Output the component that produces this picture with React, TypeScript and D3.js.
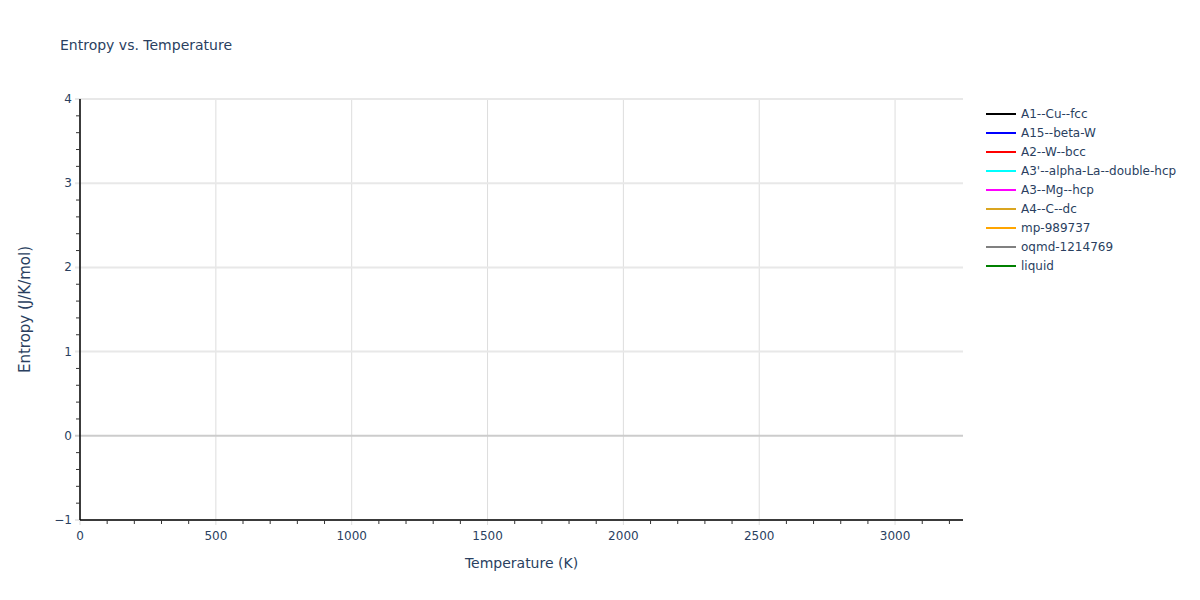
import React from "react";
import * as d3 from "d3";

const seriesNames = [
  "A1--Cu--fcc",
  "A15--beta-W",
  "A2--W--bcc",
  "A3'--alpha-La--double-hcp",
  "A3--Mg--hcp",
  "A4--C--dc",
  "mp-989737",
  "oqmd-1214769",
  "liquid",
];
const seriesColors = ["black", "blue", "red", "cyan", "magenta", "goldenrod", "orange", "grey", "green"];
// No visible data in the reference: each series is empty
const seriesTemps: number[][] = [[], [], [], [], [], [], [], [], []];
const seriesEntropy: number[][] = [[], [], [], [], [], [], [], [], []];

const xDomain = [0, 3250];
const yDomain = [-1, 4];
const xTicks = [0, 500, 1000, 1500, 2000, 2500, 3000];
const yTicks = [-1, 0, 1, 2, 3, 4];

const W = 1200;
const H = 600;
const M = { left: 80, right: 237, top: 99, bottom: 80 };
const FONT = "'DejaVu Sans', Verdana, sans-serif";
const TXT = "#2a3f5f";

export default function App() {
  const x = d3.scaleLinear().domain(xDomain).range([M.left, W - M.right]);
  const y = d3.scaleLinear().domain(yDomain).range([H - M.bottom, M.top]);
  const xMinor = d3.range(0, 3251, 100).filter((v) => v % 500 !== 0);
  const yMinor = d3.range(-1, 4.001, 0.2).map((v) => Math.round(v * 10) / 10).filter((v) => Math.abs(v - Math.round(v)) > 1e-6);
  const line = d3
    .line<[number, number]>()
    .x((d) => x(d[0]))
    .y((d) => y(d[1]));
  const x0 = M.left;
  const x1 = W - M.right;
  const yb = H - M.bottom;
  const fmt = (v: number) => (v < 0 ? "\u2212" + Math.abs(v) : String(v));

  return (
    <svg
      width={W}
      height={H}
      style={{ position: "absolute", left: 0, top: 0, background: "white", fontFamily: FONT }}
    >
      <text x={60} y={50} fontSize={14} fill={TXT}>
        Entropy vs. Temperature
      </text>
      {/* grid */}
      {xTicks.map((t) => (
        <line key={"gx" + t} x1={x(t)} x2={x(t)} y1={M.top} y2={yb + 5} stroke="#dddddd" strokeWidth={1} />
      ))}
      {yTicks.map((t) =>
        t === 0 ? (
          <line key={"gy" + t} x1={x0 - 5} x2={x1} y1={y(t)} y2={y(t)} stroke="#cccccc" strokeWidth={2} />
        ) : (
          <line key={"gy" + t} x1={x0 - 5} x2={x1} y1={y(t)} y2={y(t)} stroke="#e8e8e8" strokeWidth={2} />
        )
      )}
      {/* series */}
      {seriesNames.map((n, i) => {
        const pts = seriesTemps[i].map((t, j) => [t, seriesEntropy[i][j]] as [number, number]);
        return pts.length ? (
          <path key={n} d={line(pts) || ""} fill="none" stroke={seriesColors[i]} strokeWidth={2} />
        ) : null;
      })}
      {/* axes */}
      <line x1={x0} x2={x0} y1={M.top} y2={yb} stroke="#000" strokeWidth={1.5} />
      <line x1={x0} x2={x1} y1={yb} y2={yb} stroke="#000" strokeWidth={1.5} />
      {xMinor.map((t) => (
        <line key={"mx" + t} x1={x(t)} x2={x(t)} y1={yb} y2={yb + 4} stroke="#333" strokeWidth={1} />
      ))}
      {yMinor.map((t) => (
        <line key={"my" + t} x1={x0 - 4} x2={x0} y1={y(t)} y2={y(t)} stroke="#333" strokeWidth={1} />
      ))}
      {xTicks.map((t) => (
        <text key={"tx" + t} x={x(t)} y={yb + 20} textAnchor="middle" fontSize={12} fill={TXT}>
          {fmt(t)}
        </text>
      ))}
      {yTicks.map((t) => (
        <text key={"ty" + t} x={x0 - 8} y={y(t) + 4} textAnchor="end" fontSize={12} fill={TXT}>
          {fmt(t)}
        </text>
      ))}
      <text x={(x0 + x1) / 2} y={568} textAnchor="middle" fontSize={14} fill={TXT}>
        Temperature (K)
      </text>
      <text
        transform={`translate(30, ${(M.top + yb) / 2}) rotate(-90)`}
        textAnchor="middle"
        fontSize={15}
        fill={TXT}
      >
        Entropy (J/K/mol)
      </text>
      {/* legend */}
      {seriesNames.map((n, i) => {
        const ly = 114 + i * 19;
        return (
          <g key={"lg" + n}>
            <line x1={986} x2={1016} y1={ly} y2={ly} stroke={seriesColors[i]} strokeWidth={2} />
            <text x={1021} y={ly + 4} fontSize={12} fill={TXT}>
              {n}
            </text>
          </g>
        );
      })}
    </svg>
  );
}
